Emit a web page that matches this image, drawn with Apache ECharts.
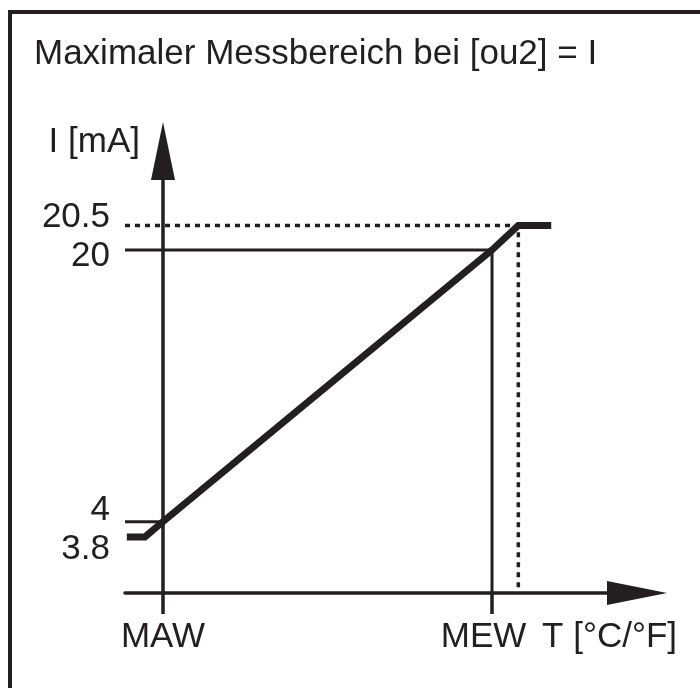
<!DOCTYPE html>
<html>
<head>
<meta charset="utf-8">
<script src="https://cdn.jsdelivr.net/npm/echarts@6/dist/echarts.min.js"></script>
<style>
    html, body { margin: 0; padding: 0; background: #fff; }
    #chart { position: absolute; left: 0; top: 0; width: 700px; height: 688px; }
    /* Rahmen oben und links */
    #frame {
        position: absolute; left: 8px; top: 10px; right: 0; bottom: 0;
        border-top: 4px solid #231f20; border-left: 4px solid #231f20;
        pointer-events: none;
    }
</style>
</head>
<body>
<div id="chart"></div>
<div id="frame"></div>
<script>
    // Temperatur normiert: MAW = 0, MEW = 1
    const xTickValues = [0, 1];
    const xTickLabels = ['MAW', 'MEW'];
    // Stromwerte [mA]
    const yTickValues = [3.8, 4, 20, 20.5];
    const yTickLabels = ['3.8', '4', '20', '20.5'];
    // Kennlinie
    const curveT = [-0.11, -0.055, 0, 1, 1.08, 1.18];
    const curveMA = [3.8, 3.8, 4, 20, 20.5, 20.5];

    // Skizze, nicht maßstäblich: mA -> Zeichenhöhe
    const yScaleIn = [3.8, 4, 20, 20.5];
    const yScaleOut = [3.1, 4, 20, 21.44];
    function sy(v) {
        for (let i = 0; i < yScaleIn.length - 1; i++) {
            if (v <= yScaleIn[i + 1] || i === yScaleIn.length - 2) {
                let k = (v - yScaleIn[i]) / (yScaleIn[i + 1] - yScaleIn[i]);
                return yScaleOut[i] + k * (yScaleOut[i + 1] - yScaleOut[i]);
            }
        }
    }

    const xMin = -0.1155, xMax = 1.3495;
    const yMin = -0.2, yMax = 24.12;
    const ink = '#231f20';
    const font = "'Liberation Sans', Arial, sans-serif";
    const fs = 35;
    const kneeT = curveT[4];

    let chart = echarts.init(document.getElementById('chart'));
    chart.setOption({
        animation: false,
        title: {
            text: 'Maximaler Messbereich bei [ou2] = I',
            left: 29,
            top: 32,
            textStyle: { fontFamily: font, fontSize: 35, fontWeight: 'normal', color: ink }
        },
        grid: { left: 125, right: 93, top: 180, bottom: 95 },
        xAxis: {
            type: 'value',
            min: xMin,
            max: xMax,
            name: 'T [°C/°F]',
            nameLocation: 'end',
            nameGap: 70,
            nameTextStyle: {
                fontFamily: font, fontSize: fs, color: ink,
                align: 'right', verticalAlign: 'top', padding: [27, 0, 0, 0]
            },
            axisLine: {
                onZero: false,
                symbol: ['none', 'triangle'],
                symbolSize: [24, 60],
                symbolOffset: [0, 30],
                lineStyle: { color: ink, width: 3.5 }
            },
            axisTick: {
                show: true,
                customValues: xTickValues,
                inside: false,
                length: 21,
                lineStyle: { color: ink, width: 3.5 }
            },
            axisLabel: {
                customValues: xTickValues,
                margin: 27,
                fontFamily: font, fontSize: fs, color: ink,
                verticalAlign: 'top',
                showMinLabel: true,
                showMaxLabel: true,
                formatter: function (v) {
                    let i = xTickValues.indexOf(v);
                    return i === 1 ? '{mew|' + xTickLabels[i] + '}' : xTickLabels[i];
                },
                rich: { mew: { fontFamily: font, fontSize: fs, color: ink, padding: [0, 17, 0, 0] } }
            },
            splitLine: { show: false }
        },
        yAxis: {
            type: 'value',
            min: yMin,
            max: yMax,
            name: 'I [mA]',
            nameLocation: 'end',
            nameGap: 38,
            nameTextStyle: {
                fontFamily: font, fontSize: fs, color: ink,
                align: 'right', verticalAlign: 'middle', padding: [0, 23, 0, 0]
            },
            axisLine: {
                onZero: true,
                symbol: ['none', 'triangle'],
                symbolSize: [24, 58],
                symbolOffset: [0, 29],
                lineStyle: { color: ink, width: 3.5 }
            },
            axisTick: { show: false },
            axisLabel: {
                customValues: yTickValues.map(sy),
                margin: 15,
                showMinLabel: true,
                showMaxLabel: true,
                hideOverlap: false,
                fontFamily: font, fontSize: fs, color: ink,
                formatter: function (v) {
                    let best = 0;
                    yTickValues.forEach(function (t, i) {
                        if (Math.abs(sy(t) - v) < Math.abs(sy(yTickValues[best]) - v)) best = i;
                    });
                    // Beschriftungen leicht versetzt, damit sie sich nicht überdecken
                    return '{' + ['dn1', 'up2', 'dn2', 'up1'][best] + '|' + yTickLabels[best] + '}';
                },
                rich: {
                    up1: { fontFamily: font, fontSize: fs, color: ink, padding: [0, 0, 16, 0] },
                    up2: { fontFamily: font, fontSize: fs, color: ink, padding: [0, 0, 22, 0] },
                    dn1: { fontFamily: font, fontSize: fs, color: ink, padding: [24, 0, 0, 0] },
                    dn2: { fontFamily: font, fontSize: fs, color: ink, padding: [12, 0, 0, 0] }
                }
            },
            splitLine: { show: false }
        },
        series: [
            {
                // 20 mA Hilfslinie bis MEW
                type: 'line', silent: true, showSymbol: false, clip: false, z: 2,
                lineStyle: { color: ink, width: 3 },
                data: [[xMin, sy(20)], [xTickValues[1], sy(20)], [xTickValues[1], yMin]]
            },
            {
                // 20.5 mA gestrichelt
                type: 'line', silent: true, showSymbol: false, clip: false, z: 2,
                lineStyle: { color: ink, width: 3.5, type: [5, 5] },
                data: [[xMin, sy(20.5)], [kneeT, sy(20.5)], [kneeT, yMin]]
            },
            {
                // 4 mA Hilfslinie bis MAW
                type: 'line', silent: true, showSymbol: false, clip: false, z: 2,
                lineStyle: { color: ink, width: 3 },
                data: [[xMin, sy(4)], [xTickValues[0], sy(4)]]
            },
            {
                // Kennlinie
                type: 'line', silent: true, showSymbol: false, clip: false, z: 3,
                lineStyle: { color: ink, width: 7, join: 'miter', cap: 'butt' },
                data: curveT.map(function (t, i) { return [t, sy(curveMA[i])]; })
            }
        ]
    });

    window.addEventListener('resize', function () {
        chart.resize()
    })
</script>
</body>
</html>
